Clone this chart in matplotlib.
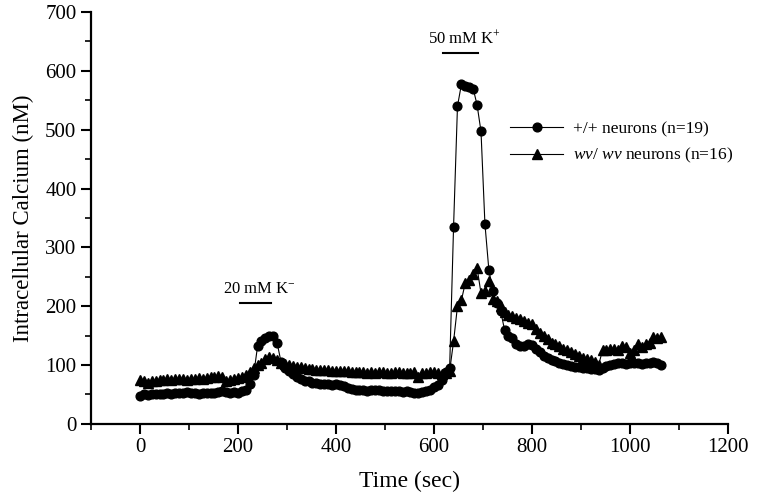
import matplotlib
matplotlib.use('Agg')
import matplotlib.pyplot as plt
from matplotlib.ticker import MultipleLocator

plt.rcParams['font.family'] = ['Liberation Serif', 'DejaVu Serif']
plt.rcParams['mathtext.fontset'] = 'custom'
plt.rcParams['mathtext.rm'] = 'Liberation Serif'
plt.rcParams['mathtext.it'] = 'Liberation Serif:italic'

# sample times (sec)
time = [0, 8, 16, 24, 32, 40, 48, 56, 64, 72, 80, 88, 96, 104, 112, 120, 128, 136, 144, 152,
        160, 168, 176, 184, 192, 200, 208, 216, 224, 232, 240, 248, 256, 264, 272, 280, 288, 296, 304, 312,
        320, 328, 336, 344, 352, 360, 368, 376, 384, 392, 400, 408, 416, 424, 432, 440, 448, 456, 464, 472,
        480, 488, 496, 504, 512, 520, 528, 536, 544, 552, 560, 568, 576, 584, 592, 600, 608, 616, 624, 632,
        640, 648, 656, 664, 672, 680, 688, 696, 704, 712, 720, 728, 736, 744, 752, 760, 768, 776, 784, 792,
        800, 808, 816, 824, 832, 840, 848, 856, 864, 872, 880, 888, 896, 904, 912, 920, 928, 936, 944, 952,
        960, 968, 976, 984, 992, 1000, 1008, 1016, 1024, 1032, 1040, 1048, 1056, 1064]

# +/+ neurons (n=19)
wt = [48, 50, 49, 50, 51, 50, 51, 52, 51, 52, 53, 52, 54, 53, 52, 51, 52, 53, 52, 53,
      54, 55, 54, 53, 54, 52, 55, 58, 67, 83, 132, 140, 146, 150, 149, 137, 105, 95, 90, 85,
      80, 76, 73, 72, 70, 69, 68, 68, 67, 66, 67, 66, 64, 61, 60, 58, 58, 57, 56, 57,
      58, 57, 56, 55, 56, 55, 55, 54, 55, 54, 52, 53, 54, 55, 57, 62, 66, 75, 88, 95,
      335, 540, 577, 574, 572, 570, 542, 497, 340, 262, 225, 205, 192, 160, 150, 146, 136, 132, 133, 136,
      134, 128, 122, 116, 112, 108, 106, 104, 102, 100, 98, 97, 96, 95, 95, 94, 93, 92, 95, 98,
      100, 102, 104, 103, 102, 103, 104, 103, 102, 104, 103, 105, 104, 100]

# wv/wv neurons (n=16)
wv = [75, 72, 70, 73, 72, 74, 75, 76, 75, 76, 77, 76, 75, 76, 77, 78, 77, 78, 80, 79,
      81, 80, 72, 74, 76, 78, 80, 83, 88, 95, 100, 104, 110, 113, 112, 108, 104, 102, 100, 98,
      97, 96, 95, 94, 93, 92, 92, 91, 91, 90, 90, 89, 89, 89, 88, 88, 88, 88, 87, 88,
      87, 88, 88, 87, 87, 88, 88, 87, 86, 87, 88, 80, 86, 87, 88, 88, 87, 85, 86, 90,
      140, 200, 210, 240, 245, 255, 265, 222, 225, 242, 212, 208, 200, 190, 185, 184, 180, 178, 175, 172,
      170, 162, 155, 150, 145, 138, 136, 132, 128, 125, 122, 118, 115, 112, 110, 108, 105, 100, 125, 126,
      127, 128, 126, 132, 130, 120, 125, 135, 130, 135, 138, 148, 146, 147]

labels = ['+/+ neurons (n=19)', r'$\mathit{wv}$/ $\mathit{wv}$ neurons (n=16)']

# stimulus bars: (start, end, level, text)
stim_20 = (204, 267, 206, r'20 mM K$^{-}$')
stim_50 = (618, 690, 630, r'50 mM K$^{+}$')

fig = plt.figure(figsize=(7.67, 5.01), dpi=100)
ax = fig.add_axes([0.1186, 0.154, 0.8305, 0.822])

ax.plot(time, wt, '-o', color='black', lw=0.8, ms=6.3, label=labels[0])
ax.plot(time, wv, '-^', color='black', lw=0.8, ms=6.8, label=labels[1])

for s, e, lvl, txt in (stim_20, stim_50):
    ax.plot([s, e], [lvl, lvl], color='black', lw=1.5)
    ax.text((s + e) / 2 + 8, lvl + 10, txt, ha='center', va='bottom', fontsize=12)

ax.set_xlim(-100, 1200)
ax.set_ylim(0, 700)
ax.xaxis.set_major_locator(MultipleLocator(200))
ax.xaxis.set_minor_locator(MultipleLocator(100))
ax.yaxis.set_major_locator(MultipleLocator(100))
ax.yaxis.set_minor_locator(MultipleLocator(50))
ax.tick_params(which='major', direction='out', length=7, width=1.5, labelsize=15)
ax.tick_params(which='minor', direction='out', length=4, width=1.2)
for side in ('top', 'right'):
    ax.spines[side].set_visible(False)
for side in ('left', 'bottom'):
    ax.spines[side].set_linewidth(1.6)

ax.set_xlabel('Time (sec)', fontsize=17, labelpad=10)
ax.set_ylabel('Intracellular Calcium (nM)', fontsize=16.5, labelpad=8)

ax.legend(loc='upper left', bbox_to_anchor=(0.665, 0.758), bbox_transform=fig.transFigure,
          frameon=False, fontsize=12.5, handlelength=3.05, handletextpad=0.57,
          labelspacing=0.5, borderpad=0, borderaxespad=0)

fig.savefig('out.png', dpi=100)
